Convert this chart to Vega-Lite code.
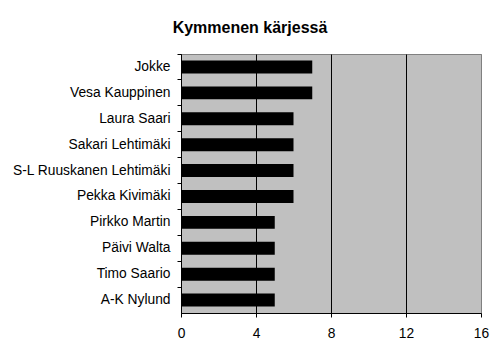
{
  "$schema": "https://vega.github.io/schema/vega-lite/v6.json",
  "autosize": {"type": "none"},
  "padding": {"left": 181, "top": 54, "right": 19, "bottom": 43},
  "width": 300,
  "height": 259,
  "background": "white",
  "title": {
    "text": "Kymmenen kärjessä",
    "font": "Liberation Sans",
    "fontSize": 16,
    "fontWeight": "bold",
    "color": "black",
    "anchor": "middle",
    "baseline": "alphabetic",
    "offset": 5,
    "dx": -81
  },
  "data": {
    "values": [
      {"name": "Jokke", "value": 7},
      {"name": "Vesa Kauppinen", "value": 7},
      {"name": "Laura Saari", "value": 6},
      {"name": "Sakari Lehtimäki", "value": 6},
      {"name": "S-L Ruuskanen Lehtimäki", "value": 6},
      {"name": "Pekka Kivimäki", "value": 6},
      {"name": "Pirkko Martin", "value": 5},
      {"name": "Päivi Walta", "value": 5},
      {"name": "Timo Saario", "value": 5},
      {"name": "A-K Nylund", "value": 5}
    ]
  },
  "mark": {"type": "bar", "color": "black", "height": {"band": 0.5}},
  "encoding": {
    "y": {
      "field": "name",
      "type": "nominal",
      "sort": null,
      "scale": {"paddingInner": 0, "paddingOuter": 0},
      "axis": {
        "title": null,
        "bandPosition": 0,
        "grid": false,
        "domainColor": "black",
        "tickColor": "black",
        "tickSize": 4,
        "labelPadding": 7,
        "labelFont": "Liberation Sans",
        "labelFontSize": 13.8,
        "labelColor": "black",
        "labelBaseline": "middle"
      }
    },
    "x": {
      "field": "value",
      "type": "quantitative",
      "scale": {"domain": [0, 16], "nice": false},
      "axis": {
        "title": null,
        "values": [0, 4, 8, 12, 16],
        "grid": true,
        "gridColor": {"condition": {"test": "datum.value === 16", "value": "#808080"}, "value": "black"},
        "gridOpacity": 1,
        "domainColor": "black",
        "tickColor": "black",
        "tickSize": 4,
        "labelPadding": 9,
        "labelFont": "Liberation Sans",
        "labelFontSize": 13.8,
        "labelColor": "black",
        "labelFlush": false
      }
    }
  },
  "config": {
    "view": {"fill": "#C0C0C0", "stroke": "#808080", "strokeWidth": 1}
  }
}
